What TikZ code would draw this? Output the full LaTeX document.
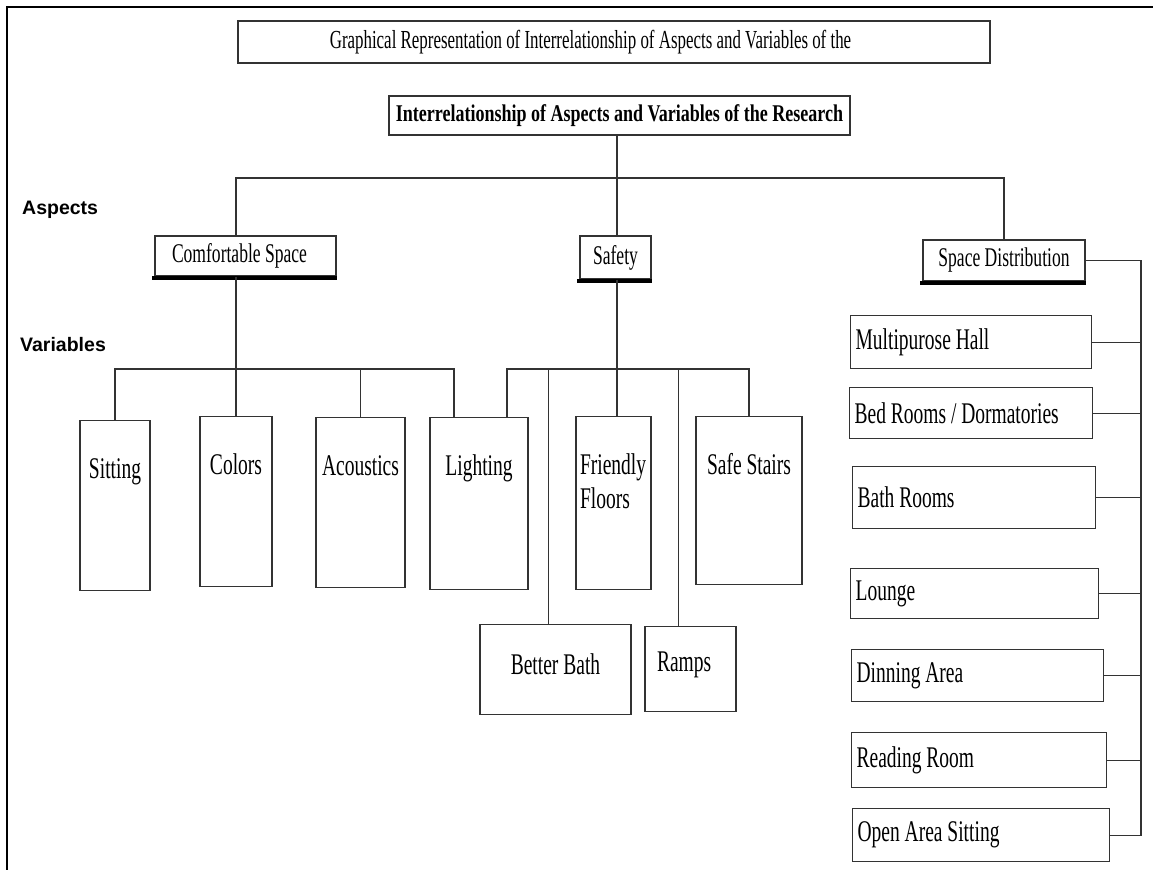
\documentclass[tikz,border=0pt]{standalone}
\usepackage{fontspec}
\usepackage{tikz}
\newfontfamily\boxfont[FakeStretch=0.65]{Liberation Serif}
\newfontfamily\rootfont[FakeStretch=0.75]{Liberation Serif}
\newfontfamily\headfont{Liberation Sans}

\begin{document}
\begin{tikzpicture}[x=1bp,y=-1bp,
   every node/.style={font=\boxfont\fontsize{30bp}{34bp}\selectfont, inner sep=0pt},
   box/.style={draw=black!80, line width=1.2bp},
   conn/.style={draw=black!80, line width=1.2bp},
   aspect/.style={box, font=\boxfont\fontsize{27bp}{30bp}\selectfont},
   varbox/.style={box, anchor=north, text height=58bp},
   spacebox/.style={box, anchor=north west, align=flush left, inner xsep=5bp, text width=#1},
   heading/.style={font=\headfont\bfseries\fontsize{19.5bp}{22bp}\selectfont, anchor=base west}]

\useasboundingbox (0,0) rectangle (1153,870);
\draw[line width=2.5bp] (7,870) -- (7,7) -- (1153,7);

% title and root
\node[box, minimum width=752bp, minimum height=42bp, font=\boxfont\fontsize{26bp}{29bp}\selectfont] (title) at (614,42)
   {Graphical Representation of Interrelationship of Aspects and Variables of the\hspace*{47bp}};
\node[box, minimum width=461bp, minimum height=39bp, font=\rootfont\bfseries\fontsize{24bp}{27bp}\selectfont] (main) at (619.5,115.5)
   {Interrelationship of Aspects and Variables of the Research};

\node[heading] (aspects) at (22,214) {Aspects};
\node[heading] (variables) at (20,351) {Variables};

% aspects
\node[aspect, minimum width=181bp, minimum height=40bp] (comf) at (245.5,256) {Comfortable Space\hspace*{12bp}};
\node[aspect, minimum width=71bp, minimum height=43bp] (safety) at (615.5,257.5) {Safety};
\node[aspect, minimum width=162bp, minimum height=41bp] (spd) at (1004,260.5) {Space Distribution};
\foreach \n in {comf,safety,spd}
   \draw[line width=4bp] ([xshift=-2bp,yshift=-1bp]\n.south west) -- ([yshift=-1bp]\n.south east);

% variables
\node[varbox, minimum width=70bp, text depth=112bp] (sitting) at (115,420) {Sitting};
\node[varbox, minimum width=72bp, text depth=112bp] (colors) at (236,416) {Colors};
\node[varbox, minimum width=89bp, text depth=112bp] (acoustics) at (360.5,417) {Acoustics};
\node[varbox, minimum width=98bp, text depth=114bp] (lighting) at (479,417) {Lighting};
\node[varbox, text width=67bp, inner xsep=4bp, align=flush left, text depth=115bp] (friendly) at (613.5,416) {Friendly\\Floors};
\node[varbox, minimum width=106bp, text depth=110bp] (stairs) at (749,416) {Safe Stairs};
\node[varbox, minimum width=151bp, text height=50bp, text depth=40bp] (bath) at (555.5,624) {Better Bath};
\node[varbox, text width=67bp, inner xsep=12bp, align=flush left, text height=45bp, text depth=40bp] (ramps) at (690.5,626) {Ramps};

% space distribution
\node[spacebox=231bp, minimum height=53bp] (hall) at (850,315) {Multipurose Hall};
\node[spacebox=233bp, minimum height=51bp] (bed) at (849,387) {Bed Rooms / Dormatories};
\node[spacebox=233bp, minimum height=62bp] (bathrooms) at (852,466) {Bath Rooms};
\node[spacebox=238bp, minimum height=50bp] (lounge) at (850,568) {Lounge};
\node[spacebox=242bp, minimum height=52bp] (dinning) at (851,649) {Dinning Area};
\node[spacebox=245bp, minimum height=55bp] (reading) at (851,732) {Reading Room};
\node[spacebox=247bp, minimum height=53bp] (open) at (852,808) {Open Area Sitting};

% connectors
\coordinate (topbus) at (617,178);
\coordinate (varbus) at (617,369);
\coordinate (rbus) at (1141,258);
\coordinate (light-l) at ([xshift=-25bp]lighting.north);
\coordinate (light-r) at ([xshift=28bp]lighting.north);
\coordinate (bath-top) at ([xshift=-7bp]bath.north);
\coordinate (ramps-top) at ([xshift=-12bp]ramps.north);

\draw[conn] (main.south -| topbus) -- (safety.north -| topbus);
\draw[conn] (comf.north -| colors.north) |- (topbus) -| (spd.north);

\draw[conn] (comf.south -| colors.north) -- (colors.north);
\draw[conn] (sitting.north) |- (light-l |- varbus) -- (light-l);
\draw[conn] (acoustics.north) -- (acoustics.north |- varbus);

\draw[conn] (safety.south -| topbus) -- (friendly.north -| topbus);
\draw[conn] (light-r) |- (stairs.north |- varbus) -- (stairs.north);
\draw[conn] (bath-top) -- (bath-top |- varbus);
\draw[conn] (ramps-top) -- (ramps-top |- varbus);

\draw[conn] (spd.east) -| (rbus |- open.east) -- (open.east);
\foreach \n in {hall,bed,bathrooms,lounge,dinning,reading}
   \draw[conn] (\n.east) -- (\n.east -| rbus);

\end{tikzpicture}
\end{document}
